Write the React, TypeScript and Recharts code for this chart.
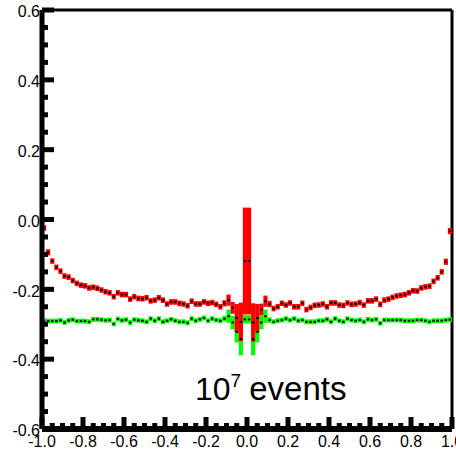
import { ScatterChart, Scatter, XAxis, YAxis, ErrorBar, ReferenceLine } from 'recharts';

// histogram binning: 100 bins from -1 to 1
const BIN_LOW = -1.0;
const BIN_WIDTH = 0.02;

const redValues = [
  -0.024, -0.094, -0.119, -0.137, -0.148, -0.162, -0.165, -0.175, -0.183, -0.188,
  -0.190, -0.196, -0.194, -0.197, -0.202, -0.207, -0.210, -0.221, -0.210, -0.215,
  -0.215, -0.228, -0.221, -0.226, -0.227, -0.224, -0.233, -0.231, -0.224, -0.231,
  -0.242, -0.236, -0.236, -0.240, -0.242, -0.247, -0.234, -0.242, -0.242, -0.236,
  -0.240, -0.238, -0.243, -0.250, -0.240, -0.231, -0.253, -0.282, -0.293, -0.119,
  -0.119, -0.295, -0.282, -0.258, -0.234, -0.242, -0.255, -0.250, -0.240, -0.245,
  -0.239, -0.250, -0.250, -0.240, -0.258, -0.252, -0.246, -0.245, -0.242, -0.250,
  -0.239, -0.239, -0.245, -0.246, -0.239, -0.243, -0.242, -0.238, -0.245, -0.233,
  -0.233, -0.228, -0.243, -0.231, -0.228, -0.223, -0.219, -0.217, -0.215, -0.210,
  -0.204, -0.205, -0.196, -0.193, -0.191, -0.177, -0.167, -0.150, -0.121, -0.033,
];

const redErrors = [
  0.008, 0.009, 0.008, 0.008, 0.008, 0.008, 0.008, 0.008, 0.008, 0.008,
  0.008, 0.008, 0.008, 0.008, 0.008, 0.008, 0.008, 0.008, 0.008, 0.008,
  0.008, 0.008, 0.008, 0.008, 0.008, 0.008, 0.008, 0.008, 0.008, 0.008,
  0.008, 0.008, 0.008, 0.008, 0.008, 0.008, 0.008, 0.008, 0.008, 0.008,
  0.008, 0.008, 0.008, 0.008, 0.009, 0.016, 0.017, 0.040, 0.055, 0.153,
  0.153, 0.055, 0.040, 0.017, 0.016, 0.009, 0.008, 0.008, 0.008, 0.008,
  0.008, 0.008, 0.008, 0.008, 0.008, 0.008, 0.008, 0.008, 0.008, 0.008,
  0.008, 0.008, 0.008, 0.008, 0.008, 0.008, 0.008, 0.008, 0.008, 0.008,
  0.008, 0.008, 0.008, 0.008, 0.008, 0.008, 0.008, 0.008, 0.008, 0.008,
  0.008, 0.008, 0.008, 0.008, 0.008, 0.008, 0.008, 0.008, 0.009, 0.009,
];

const greenValues = [
  -0.290, -0.291, -0.291, -0.291, -0.289, -0.295, -0.289, -0.287, -0.291, -0.291,
  -0.291, -0.293, -0.286, -0.286, -0.287, -0.289, -0.288, -0.299, -0.285, -0.289,
  -0.287, -0.295, -0.287, -0.289, -0.290, -0.293, -0.284, -0.290, -0.284, -0.293,
  -0.290, -0.286, -0.290, -0.293, -0.293, -0.296, -0.284, -0.290, -0.286, -0.282,
  -0.290, -0.284, -0.288, -0.290, -0.284, -0.277, -0.295, -0.322, -0.343, -0.286,
  -0.286, -0.343, -0.322, -0.295, -0.277, -0.288, -0.293, -0.290, -0.288, -0.284,
  -0.288, -0.284, -0.290, -0.288, -0.293, -0.293, -0.293, -0.290, -0.290, -0.286,
  -0.293, -0.284, -0.290, -0.293, -0.284, -0.288, -0.290, -0.288, -0.293, -0.286,
  -0.288, -0.286, -0.297, -0.288, -0.288, -0.288, -0.288, -0.288, -0.290, -0.290,
  -0.290, -0.288, -0.288, -0.290, -0.293, -0.290, -0.290, -0.290, -0.288, -0.287,
];

const greenErrors = [
  0.007, 0.007, 0.007, 0.007, 0.007, 0.007, 0.007, 0.007, 0.007, 0.007,
  0.007, 0.007, 0.007, 0.007, 0.007, 0.007, 0.007, 0.007, 0.007, 0.007,
  0.007, 0.007, 0.007, 0.007, 0.007, 0.007, 0.007, 0.007, 0.007, 0.007,
  0.007, 0.007, 0.007, 0.007, 0.007, 0.007, 0.007, 0.007, 0.007, 0.007,
  0.007, 0.007, 0.007, 0.007, 0.008, 0.019, 0.019, 0.030, 0.046, 0.012,
  0.012, 0.046, 0.030, 0.019, 0.019, 0.008, 0.007, 0.007, 0.007, 0.007,
  0.007, 0.007, 0.007, 0.007, 0.007, 0.007, 0.007, 0.007, 0.007, 0.007,
  0.007, 0.007, 0.007, 0.007, 0.007, 0.007, 0.007, 0.007, 0.007, 0.007,
  0.007, 0.007, 0.007, 0.007, 0.007, 0.007, 0.007, 0.007, 0.007, 0.007,
  0.007, 0.007, 0.007, 0.007, 0.007, 0.007, 0.007, 0.007, 0.007, 0.007,
];

const xMajorTicks = [-1.0, -0.8, -0.6, -0.4, -0.2, 0.0, 0.2, 0.4, 0.6, 0.8, 1.0];
const yMajorTicks = [-0.6, -0.4, -0.2, 0.0, 0.2, 0.4, 0.6];

const FONT = '"Liberation Sans", Arial, Helvetica, sans-serif';

function withMinor(majors: number[]): number[] {
  const out: number[] = [];
  majors.forEach((m, i) => {
    out.push(m);
    if (i < majors.length - 1) {
      for (let k = 1; k < 4; k++) out.push(Math.round((m + 0.05 * k) * 100) / 100);
    }
  });
  return out;
}

function isMajor(v: number) {
  return Math.abs(v * 5 - Math.round(v * 5)) < 1e-6;
}

function fmt(v: number) {
  const s = Math.abs(v).toFixed(1);
  return v < -1e-9 ? '-' + s : s;
}

function buildRows(values: number[], errors: number[]) {
  return values.map((y, i) => ({ x: BIN_LOW + BIN_WIDTH * (i + 0.5), y, err: errors[i] }));
}

const redRows = buildRows(redValues, redErrors);
const greenRows = buildRows(greenValues, greenErrors);

function YTick(props: any) {
  const { x, y, payload } = props;
  const major = isMajor(payload.value);
  return (
    <g>
      <line x1={x} y1={y} x2={x + (major ? 12 : 6)} y2={y} stroke="#000" strokeWidth={5} />
      {major && (
        <text x={x - 2} y={y + 1.5} dy="0.36em" textAnchor="end" fontSize={16} fontFamily={FONT} fill="#000">
          {fmt(payload.value)}
        </text>
      )}
    </g>
  );
}

function XTick(props: any) {
  const { x, y, payload } = props;
  const major = isMajor(payload.value);
  return (
    <g>
      <line x1={x} y1={y} x2={x} y2={y - (major ? 12 : 6)} stroke="#000" strokeWidth={5} />
      {major && (
        <text x={x} y={y + 18} textAnchor="middle" fontSize={16} fontFamily={FONT} fill="#000">
          {fmt(payload.value)}
        </text>
      )}
    </g>
  );
}

const noShape = () => <g />;
const dotShape = (p: any) => <rect x={p.cx - 1.2} y={p.cy - 1} width={2.4} height={2} fill="#000" />;

export default function App() {
  return (
    <div style={{ position: 'absolute', left: 0, top: 0, width: 456, height: 450, background: '#fff' }}>
      <ScatterChart width={456} height={450} margin={{ top: 10, right: 4, bottom: 0, left: 0 }}>
        <XAxis
          type="number"
          dataKey="x"
          domain={[-1, 1]}
          ticks={withMinor(xMajorTicks)}
          interval={0}
          height={21}
          tickSize={0}
          tickMargin={0}
          tickLine={false}
          axisLine={{ stroke: '#000', strokeWidth: 6 }}
          tick={<XTick />}
          allowDataOverflow
        />
        <YAxis
          type="number"
          dataKey="y"
          domain={[-0.6, 0.6]}
          ticks={withMinor(yMajorTicks)}
          interval={0}
          width={42}
          tickSize={0}
          tickMargin={0}
          tickLine={false}
          axisLine={{ stroke: '#000', strokeWidth: 5 }}
          tick={<YTick />}
          allowDataOverflow
        />
        <ReferenceLine y={0.6} stroke="#000" strokeWidth={3} />
        <ReferenceLine x={1} stroke="#000" strokeWidth={3} />
        <Scatter data={greenRows} dataKey="y" shape={noShape} isAnimationActive={false}>
          <ErrorBar dataKey="err" direction="y" width={0} stroke="#00ff00" strokeWidth={4.2} isAnimationActive={false} />
        </Scatter>
        <Scatter data={redRows} dataKey="y" shape={noShape} isAnimationActive={false}>
          <ErrorBar dataKey="err" direction="y" width={0} stroke="#ff0000" strokeWidth={4.2} isAnimationActive={false} />
        </Scatter>
        <Scatter data={greenRows} dataKey="y" shape={dotShape} isAnimationActive={false} />
        <Scatter data={redRows} dataKey="y" shape={dotShape} isAnimationActive={false} />
      </ScatterChart>
      <svg width={456} height={450} style={{ position: 'absolute', left: 0, top: 0, pointerEvents: 'none' }}>
        <text x={195} y={400} fontSize={32} fontFamily={FONT} fill="#000">
          10
          <tspan fontSize={19} dy={-13}>7</tspan>
          <tspan dy={13} dx={8} fontSize={33}>events</tspan>
        </text>
      </svg>
    </div>
  );
}
